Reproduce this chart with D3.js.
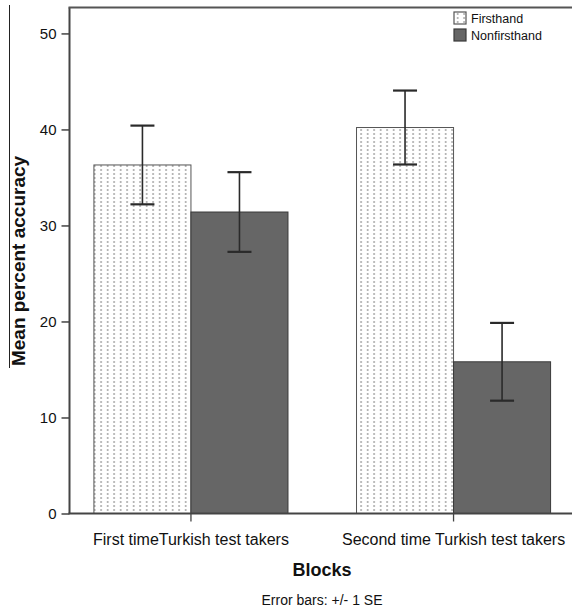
<!DOCTYPE html>
<html>
<head>
<meta charset="utf-8">
<script src="https://cdn.jsdelivr.net/npm/d3@7"></script>
<style>
  body { margin: 0; background: #fff; }
  text { font-family: "Liberation Sans", Arial, sans-serif; fill: #111; }
</style>
</head>
<body>
<svg id="chart" width="572" height="611"></svg>
<script>
// Mean percent accuracy by block and evidential type (error bars: +/- 1 SE)
const blocks = ["First timeTurkish test takers", "Second time Turkish test takers"];
const groups = ["Firsthand", "Nonfirsthand"];
const firsthandMean = [36.3, 40.2];
const nonfirsthandMean = [31.4, 15.8];
const firsthandSE = [4.1, 3.85];
const nonfirsthandSE = [4.15, 4.05];
const yTicks = [0, 10, 20, 30, 40, 50];

const rows = [];
blocks.forEach((b, i) => {
  rows.push({ block: b, group: groups[0], mean: firsthandMean[i], se: firsthandSE[i] });
  rows.push({ block: b, group: groups[1], mean: nonfirsthandMean[i], se: nonfirsthandSE[i] });
});

const svg = d3.select("#chart");
const plotLeft = 69.5, plotRight = 575, plotTop = 7.5, plotBottom = 513.5;

const y = d3.scaleLinear().domain([0, 52.7]).range([plotBottom, plotTop]);
const x0 = d3.scaleBand().domain(blocks).range([plotLeft, plotRight])
  .paddingInner(0.261).paddingOuter(0.093);
const x1 = d3.scaleBand().domain(groups).range([0, x0.bandwidth()]).padding(0);

// dotted fill for the firsthand bars
const defs = svg.append("defs");
const pat = defs.append("pattern")
  .attr("id", "dots").attr("patternUnits", "userSpaceOnUse")
  .attr("width", 6.5).attr("height", 4);
pat.append("rect").attr("width", 6.5).attr("height", 4).attr("fill", "#fff");
pat.append("rect").attr("x", 3).attr("y", 1).attr("width", 1.3).attr("height", 2).attr("fill", "#9a9a9a");

const fillFor = g => g === groups[0] ? "url(#dots)" : "#666";
const strokeFor = g => g === groups[0] ? "#555" : "#3a3a3a";

// bars
svg.append("g").selectAll("rect").data(rows).join("rect")
  .attr("x", d => x0(d.block) + x1(d.group))
  .attr("y", d => y(d.mean))
  .attr("width", x1.bandwidth())
  .attr("height", d => y(0) - y(d.mean))
  .attr("fill", d => fillFor(d.group))
  .attr("stroke", d => strokeFor(d.group))
  .attr("stroke-width", 1);

// error bars
const eb = svg.append("g").selectAll("g").data(rows).join("g")
  .attr("transform", d => `translate(${x0(d.block) + x1(d.group) + x1.bandwidth() / 2},0)`);
eb.append("line")
  .attr("y1", d => y(d.mean + d.se)).attr("y2", d => y(d.mean - d.se))
  .attr("stroke", "#2a2a2a").attr("stroke-width", 1.6);
eb.selectAll("line.cap").data(d => [d.mean + d.se, d.mean - d.se]).join("line")
  .attr("class", "cap")
  .attr("x1", -12).attr("x2", 12)
  .attr("y1", v => y(v)).attr("y2", v => y(v))
  .attr("stroke", "#2a2a2a").attr("stroke-width", 2.2);

// y axis
const yAxis = svg.append("g").attr("transform", `translate(${plotLeft},0)`)
  .call(d3.axisLeft(y).tickValues(yTicks).tickSize(8).tickPadding(5));
yAxis.select(".domain").attr("d", `M0,${plotBottom}V${plotTop}`).attr("stroke", "#444").attr("stroke-width", 2);
yAxis.selectAll(".tick line").attr("stroke", "#444").attr("stroke-width", 1.5);
yAxis.selectAll(".tick text").style("font-size", "15px").attr("fill", "#111")
  .style("font-family", "'Liberation Sans', Arial, sans-serif");

// x axis
const xAxis = svg.append("g").attr("transform", `translate(0,${plotBottom})`)
  .call(d3.axisBottom(x0).tickSize(8).tickPadding(12));
xAxis.select(".domain").attr("d", `M${plotLeft - 1},0H572`).attr("stroke", "#444").attr("stroke-width", 2);
xAxis.selectAll(".tick line").attr("stroke", "#444").attr("stroke-width", 1.3);
xAxis.selectAll(".tick text").style("font-size", "16px").attr("fill", "#111")
  .style("font-family", "'Liberation Sans', Arial, sans-serif");

// top frame line
svg.append("line").attr("x1", plotLeft - 1).attr("x2", 572).attr("y1", plotTop).attr("y2", plotTop)
  .attr("stroke", "#555").attr("stroke-width", 2);

// left margin rule
svg.append("line").attr("x1", 9.5).attr("x2", 9.5).attr("y1", 5).attr("y2", 368)
  .attr("stroke", "#222").attr("stroke-width", 1);

// axis titles
svg.append("text").attr("transform", "translate(25,261) rotate(-90)")
  .attr("text-anchor", "middle").style("font-size", "19px").style("font-weight", "bold")
  .text("Mean percent accuracy");
svg.append("text").attr("x", 322).attr("y", 576).attr("text-anchor", "middle")
  .style("font-size", "18px").style("font-weight", "bold").text("Blocks");
svg.append("text").attr("x", 322).attr("y", 605).attr("text-anchor", "middle")
  .style("font-size", "14px").text("Error bars: +/- 1 SE");

// legend
const lg = svg.append("g").attr("transform", "translate(454,12)");
const li = lg.selectAll("g").data(groups).join("g")
  .attr("transform", (d, i) => `translate(0,${i * 17})`);
li.append("rect").attr("width", 12).attr("height", 12)
  .attr("fill", d => fillFor(d)).attr("stroke", d => strokeFor(d)).attr("stroke-width", 1.2);
li.append("text").attr("x", 17).attr("y", 10.5)
  .style("font-size", "12.5px").text(d => d);
</script>
</body>
</html>
